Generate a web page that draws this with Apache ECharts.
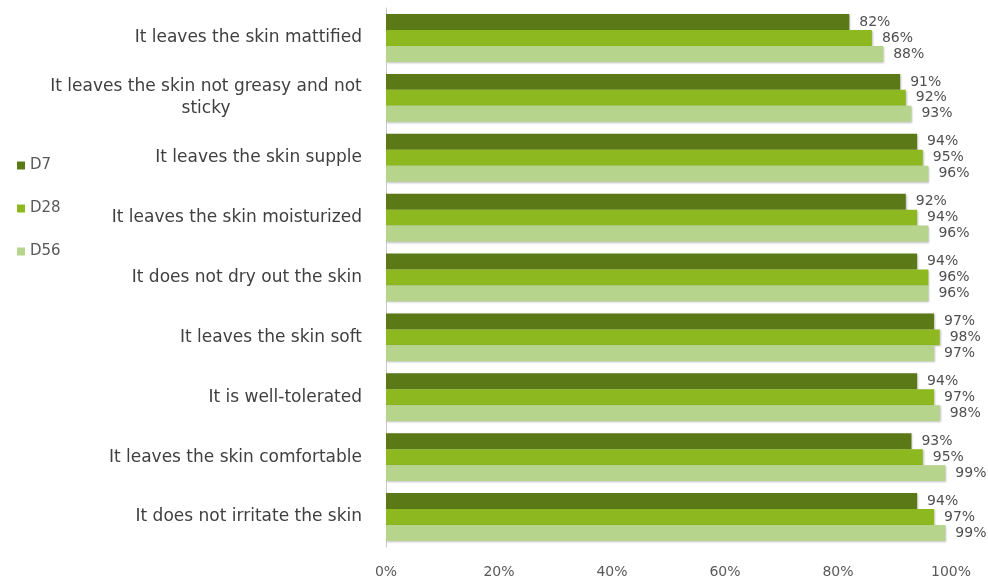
<!DOCTYPE html>
<html><head><meta charset="utf-8">
<script src="https://cdn.jsdelivr.net/npm/echarts@6/dist/echarts.min.js"></script>
<style>html,body{margin:0;padding:0;background:#fff}#c{width:988px;height:580px}</style>
</head><body><div id="c"></div>
<script>
const categories = [
  "It leaves the skin mattified",
  "It leaves the skin not greasy and not sticky",
  "It leaves the skin supple",
  "It leaves the skin moisturized",
  "It does not dry out the skin",
  "It leaves the skin soft",
  "It is well-tolerated",
  "It leaves the skin comfortable",
  "It does not irritate the skin"
];
const seriesNames = ["D7", "D28", "D56"];
const d7  = [82, 91, 94, 92, 94, 97, 94, 93, 94];
const d28 = [86, 92, 95, 94, 96, 98, 97, 95, 97];
const d56 = [88, 93, 96, 96, 96, 97, 98, 99, 99];
const xTicks = [0, 20, 40, 60, 80, 100];

const colors = ["#5b7a17", "#8db81f", "#b6d48c"];
const font = "DejaVu Sans";
const chart = echarts.init(document.getElementById('c'));
const mk = (name, data, i) => ({
  name, type: 'bar', data,
  barGap: '0%', barCategoryGap: '20%',
  itemStyle: { color: colors[i], shadowColor: 'rgba(0,0,0,0.25)', shadowBlur: 2, shadowOffsetX: 1, shadowOffsetY: 1 },
  label: { show: true, position: 'right', distance: 10, formatter: p => p.value + '%',
    color: '#505050', fontFamily: font, fontSize: 14 }
});
function wrapLabel(v) {
  const maxChars = 38;
  if (v.length <= maxChars) return v;
  const words = v.split(' ');
  let l1 = '', i = 0;
  while (i < words.length && (l1 + (l1 ? ' ' : '') + words[i]).length <= maxChars) {
    l1 += (l1 ? ' ' : '') + words[i]; i++;
  }
  const l2 = words.slice(i).join(' ');
  return '{w|' + l1 + '}\n{w|' + l2 + '}';
}
chart.setOption({
  animation: false,
  textStyle: { fontFamily: font },
  legend: {
    orient: 'vertical', left: 12, top: 153, itemGap: 28,
    itemWidth: 8, itemHeight: 8, icon: 'rect',
    textStyle: { color: '#595959', fontSize: 15, fontFamily: font },
    data: seriesNames
  },
  grid: { left: 386, right: 37, top: 8, bottom: 33, containLabel: false },
  xAxis: {
    type: 'value', min: 0, max: 100, interval: 20,
    axisLine: { show: false }, axisTick: { show: false }, splitLine: { show: false },
    axisLabel: { color: '#595959', fontSize: 14, fontFamily: font, margin: 18,
      formatter: v => xTicks.includes(v) ? v + '%' : '' }
  },
  yAxis: {
    type: 'category', data: categories, inverse: true,
    axisLine: { show: true, lineStyle: { color: '#c8c8c8' } },
    axisTick: { show: false },
    axisLabel: { color: '#404040', fontSize: 17, fontFamily: font, margin: 24,
      lineHeight: 22, align: 'right', formatter: wrapLabel,
      rich: { w: { width: 312, align: 'center', fontSize: 17, lineHeight: 22, color: '#404040', fontFamily: font } } }
  },
  series: [mk(seriesNames[0], d7, 0), mk(seriesNames[1], d28, 1), mk(seriesNames[2], d56, 2)]
});
</script></body></html>
